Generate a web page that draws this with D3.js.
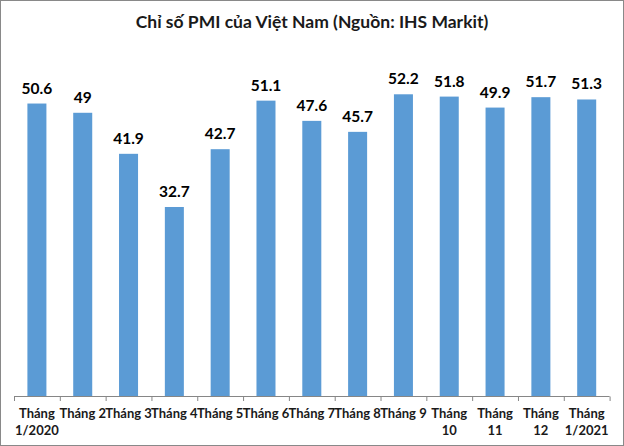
<!DOCTYPE html>
<html><head><meta charset="utf-8">
<script src="https://cdn.jsdelivr.net/npm/d3@7"></script>
<style>
html,body{margin:0;padding:0;background:#fff;}
svg{display:block;}
</style>
</head><body>
<svg id="chart" width="624" height="446"></svg>
<script>
const chartTitle = "Chỉ số PMI của Việt Nam (Nguồn: IHS Markit)";
const categories = ["T1/2020","T2","T3","T4","T5","T6","T7","T8","T9","T10","T11","T12","T1/2021"];
const tickLabels = [
  ["Tháng","1/2020"],["Tháng 2"],["Tháng 3"],["Tháng 4"],["Tháng 5"],["Tháng 6"],
  ["Tháng 7"],["Tháng 8"],["Tháng 9"],["Tháng","10"],["Tháng","11"],["Tháng","12"],["Tháng","1/2021"]
];
const pmiValues = [50.6, 49, 41.9, 32.7, 42.7, 51.1, 47.6, 45.7, 52.2, 51.8, 49.9, 51.7, 51.3];
const yDomain = [0, 60];

const W = 624, H = 446;
const FONT = "Lato, 'Open Sans', sans-serif";
const svg = d3.select("#chart");

svg.append("rect").attr("x",0.5).attr("y",0.5).attr("width",W-1).attr("height",H-1)
  .attr("fill","#fff").attr("stroke","#898989").attr("stroke-width",1);

const x = d3.scaleBand().domain(categories).range([14, 609.6]).paddingInner(0.585).paddingOuter(0.2925);
const y = d3.scaleLinear().domain(yDomain).range([396, 49.2]);

svg.append("text").attr("x",312).attr("y",28).attr("text-anchor","middle")
  .attr("font-family",FONT).attr("font-weight","bold").attr("font-size",17.5)
  .attr("fill","#1a1a1a").text(chartTitle);

svg.append("g").selectAll("rect").data(pmiValues).join("rect")
  .attr("x",(d,i)=>x(categories[i])).attr("width",x.bandwidth())
  .attr("y",d=>y(d)).attr("height",d=>y(0)-y(d)).attr("fill","#5B9BD5");

svg.append("g").selectAll("text").data(pmiValues).join("text")
  .attr("x",(d,i)=>x(categories[i])+x.bandwidth()/2).attr("y",d=>y(d)-10)
  .attr("text-anchor","middle").attr("font-family",FONT).attr("font-weight","bold")
  .attr("font-size",15.5).attr("fill","#000").text(d=>d);

// x axis with band ticks at boundaries
const xAxisScale = d3.scaleLinear().domain([0, categories.length]).range([14, 609.6]);
const axis = d3.axisBottom(xAxisScale).tickValues(d3.range(categories.length+1)).tickSize(5).tickFormat("");
const gx = svg.append("g").attr("transform",`translate(0,${y(0)})`).call(axis);
gx.selectAll("path,line").attr("stroke","#868686").attr("stroke-width",1);
gx.select(".domain").attr("d",`M14,0.5H609.6`);
gx.selectAll(".tick line").attr("y1",0.5);

const lab = svg.append("g").selectAll("text").data(tickLabels).join("text")
  .attr("text-anchor","middle").attr("font-family",FONT).attr("font-weight","bold")
  .attr("font-size",13).attr("fill","#1a1a1a");
lab.each(function(lines,i){
  const cx = x(categories[i]) + x.bandwidth()/2;
  d3.select(this).selectAll("tspan").data(lines).join("tspan")
    .attr("x",cx).attr("y",(l,j)=>418+j*16.5).text(l=>l);
});
</script>
</body></html>
